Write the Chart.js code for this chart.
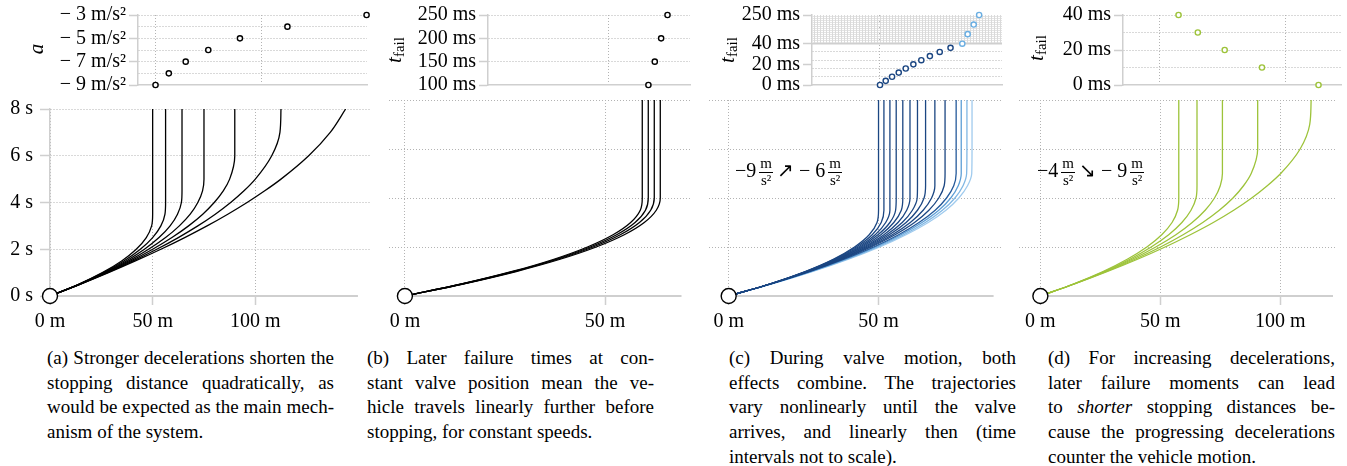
<!DOCTYPE html>
<html>
<head>
<meta charset="utf-8">
<script src="https://cdn.jsdelivr.net/npm/chart.js@4.4.1/dist/chart.umd.min.js"></script>
<style>
  body { margin: 0; background: #fff; }
  #fig { position: relative; width: 1347px; height: 466px; overflow: hidden; font-family: 'Liberation Serif', 'Times New Roman', Times, serif; color: #000; }
  canvas { position: absolute; }
  .ytitle { position: absolute; font-size: 21px; white-space: nowrap; transform: translate(-50%, -50%) rotate(-90deg); }
  .ytitle sub { font-size: 15px; vertical-align: -3px; }
  .note { position: absolute; font-size: 20px; line-height: 1; white-space: nowrap; }
  .frac { display: inline-block; vertical-align: middle; text-align: center; font-size: 15px; line-height: 1.05; margin: 0 4px 0 3px; }
  .frac span { display: block; }
  .frac .num { border-bottom: 0.8px solid #000; padding: 0 1px; }
  .cap { position: absolute; top: 346px; width: 287px; font-size: 19px; line-height: 24.7px; }
  .cap div { text-align: justify; text-align-last: justify; white-space: nowrap; }
  .cap div.last { text-align-last: left; }
</style>
</head>
<body>
<div id="fig">
  <canvas id="topA" width="380" height="100" style="left:0;top:0"></canvas>
  <canvas id="topB" width="320" height="100" style="left:380px;top:0"></canvas>
  <canvas id="topC" width="310" height="100" style="left:700px;top:0"></canvas>
  <canvas id="topD" width="337" height="100" style="left:1010px;top:0"></canvas>
  <canvas id="mainA" width="380" height="250" style="left:0;top:90px"></canvas>
  <canvas id="mainB" width="320" height="250" style="left:380px;top:90px"></canvas>
  <canvas id="mainC" width="310" height="250" style="left:700px;top:90px"></canvas>
  <canvas id="mainD" width="335" height="250" style="left:1010px;top:90px"></canvas>

  <div class="ytitle" style="left:36px;top:49px"><i>a</i></div>
  <div class="ytitle" style="left:395px;top:50px"><i>t</i><sub>fail</sub></div>
  <div class="ytitle" style="left:728px;top:50px"><i>t</i><sub>fail</sub></div>
  <div class="ytitle" style="left:1037px;top:48px"><i>t</i><sub>fail</sub></div>

  <div class="note" style="left:735px;top:156px">−9<span class="frac"><span class="num">m</span><span>s²</span></span>↗ − 6<span class="frac"><span class="num">m</span><span>s²</span></span></div>
  <div class="note" style="left:1037px;top:156px">−4<span class="frac"><span class="num">m</span><span>s²</span></span>↘ − 9<span class="frac"><span class="num">m</span><span>s²</span></span></div>

  <div class="cap" style="left:47px">
    <div>(a) Stronger decelerations shorten the</div>
    <div>stopping distance quadratically, as</div>
    <div>would be expected as the main mech-</div>
    <div class="last">anism of the system.</div>
  </div>
  <div class="cap" style="left:367px">
    <div>(b) Later failure times at con-</div>
    <div>stant valve position mean the ve-</div>
    <div>hicle travels linearly further before</div>
    <div class="last">stopping, for constant speeds.</div>
  </div>
  <div class="cap" style="left:729px">
    <div>(c) During valve motion, both</div>
    <div>effects combine. The trajectories</div>
    <div>vary nonlinearly until the valve</div>
    <div>arrives, and linearly then (time</div>
    <div class="last">intervals not to scale).</div>
  </div>
  <div class="cap" style="left:1048px">
    <div>(d) For increasing decelerations,</div>
    <div>later failure moments can lead</div>
    <div>to <i>shorter</i> stopping distances be-</div>
    <div>cause the progressing decelerations</div>
    <div class="last">counter the vehicle motion.</div>
  </div>
</div>

<script>
// time samples (s) shared by every trajectory, distances in m
const tGrid = [0, 0.5, 1, 1.5, 2, 2.5, 3, 3.5, 4, 4.5, 5, 6, 7, 8];
const origin = [{x: 0, y: 0}];
const timeTicks = [0, 2, 4, 6, 8];

// (a) deceleration sweep
const decelA = [-9, -8, -7, -6, -5, -4, -3];
const stopA = [50, 56.3, 64.3, 75, 90, 112.5, 150];
const curvesA = [
    [0, 13.9, 25.5, 34.9, 42, 46.9, 49.5, 50, 50, 50, 50, 50, 50, 50],
    [0, 14, 26, 36, 44, 50, 54, 56, 56.3, 56.3, 56.3, 56.3, 56.3, 56.3],
    [0, 14.1, 26.5, 37.1, 46, 53.1, 58.5, 62.1, 64, 64.3, 64.3, 64.3, 64.3, 64.3],
    [0, 14.3, 27, 38.3, 48, 56.3, 63, 68.3, 72, 74.3, 75, 75, 75, 75],
    [0, 14.4, 27.5, 39.4, 50, 59.4, 67.5, 74.4, 80, 84.4, 87.5, 90, 90, 90],
    [0, 14.5, 28, 40.5, 52, 62.5, 72, 80.5, 88, 94.5, 100, 108, 112, 112.5],
    [0, 14.6, 28.5, 41.6, 54, 65.6, 76.5, 86.6, 96, 104.6, 112.5, 126, 136.5, 144]
];

// (b) failure time sweep
const tFailB = [100, 150, 200, 250];
const stopB = [59.3, 60.8, 62.3, 63.8];
const curvesB = [
    [0, 14.4, 26.8, 37.2, 45.6, 52, 56.4, 58.8, 59.3, 59.3, 59.3, 59.3, 59.3, 59.3],
    [0, 14.5, 27.1, 37.7, 46.3, 52.9, 57.5, 60.1, 60.8, 60.8, 60.8, 60.8, 60.8, 60.8],
    [0, 14.6, 27.4, 38.2, 47, 53.8, 58.6, 61.4, 62.3, 62.3, 62.3, 62.3, 62.3, 62.3],
    [0, 14.8, 27.8, 38.8, 47.8, 54.8, 59.8, 62.8, 63.8, 63.8, 63.8, 63.8, 63.8, 63.8]
];

// (c) failure during valve motion
const tFailC = [0, 4, 8, 12, 16, 20, 24, 28, 32, 36, 40, 110, 180, 250];
const stopC = [50, 51.8, 53.8, 55.9, 58.1, 60.5, 63, 65.7, 68.8, 72.2, 75.9, 77.6, 79.5, 81.2];
const curvesC = [
    [0, 13.9, 25.5, 34.9, 42, 46.9, 49.5, 50, 50, 50, 50, 50, 50, 50],
    [0, 13.9, 25.7, 35.2, 42.6, 47.9, 50.9, 51.8, 51.8, 51.8, 51.8, 51.8, 51.8, 51.8],
    [0, 14, 25.8, 35.6, 43.3, 48.9, 52.4, 53.8, 53.8, 53.8, 53.8, 53.8, 53.8, 53.8],
    [0, 14, 26, 35.9, 43.9, 49.8, 53.8, 55.7, 55.9, 55.9, 55.9, 55.9, 55.9, 55.9],
    [0, 14, 26.1, 36.3, 44.5, 50.8, 55.1, 57.6, 58.1, 58.1, 58.1, 58.1, 58.1, 58.1],
    [0, 14.1, 26.3, 36.6, 45.1, 51.8, 56.5, 59.4, 60.5, 60.5, 60.5, 60.5, 60.5, 60.5],
    [0, 14.1, 26.4, 37, 45.7, 52.7, 57.9, 61.3, 62.9, 63, 63, 63, 63, 63],
    [0, 14.1, 26.6, 37.3, 46.3, 53.6, 59.2, 63, 65.2, 65.7, 65.7, 65.7, 65.7, 65.7],
    [0, 14.2, 26.7, 37.6, 46.9, 54.6, 60.6, 64.9, 67.7, 68.8, 68.8, 68.8, 68.8, 68.8],
    [0, 14.2, 26.9, 38, 47.5, 55.5, 62, 66.8, 70.1, 71.9, 72.2, 72.2, 72.2, 72.2],
    [0, 14.3, 27.2, 38.5, 48.4, 56.7, 63.5, 68.9, 72.7, 75.1, 75.9, 75.9, 75.9, 75.9],
    [0, 14.5, 27.5, 39, 49, 57.5, 64.5, 70.1, 74.1, 76.6, 77.6, 77.6, 77.6, 77.6],
    [0, 14.6, 27.8, 39.5, 49.7, 58.4, 65.6, 71.3, 75.5, 78.2, 79.4, 79.5, 79.5, 79.5],
    [0, 14.7, 28.1, 40, 50.4, 59.2, 66.6, 72.5, 76.8, 79.7, 81.1, 81.2, 81.2, 81.2]
];

// (d) increasing deceleration
const tFailD = [40, 30, 20, 10, 0];
const stopD = [57.7, 65.3, 75.9, 90.6, 112.9];
const curvesD = [
    [0, 14, 26.1, 36.2, 44.4, 50.6, 54.9, 57.2, 57.7, 57.7, 57.7, 57.7, 57.7, 57.7],
    [0, 14.1, 26.6, 37.3, 46.2, 53.5, 59, 62.8, 64.9, 65.3, 65.3, 65.3, 65.3, 65.3],
    [0, 14.3, 27, 38.3, 48.1, 56.5, 63.3, 68.7, 72.6, 75, 75.9, 75.9, 75.9, 75.9],
    [0, 14.4, 27.5, 39.4, 50.1, 59.5, 67.7, 74.6, 80.3, 84.7, 87.9, 90.6, 90.6, 90.6],
    [0, 14.5, 28, 40.5, 52, 62.5, 72.1, 80.6, 88.1, 94.6, 100.2, 108.3, 112.3, 112.9]
];

const GRID = '#b3b3b3';
const AXIS = '#cfcfcf';
const DOT = [1, 2];
const NAVY = '#1b4682';
const GREEN = '#9dc33a';

Chart.defaults.font.family = "'Liberation Serif', 'Times New Roman', Times, serif";
Chart.defaults.font.size = 20;
Chart.defaults.color = '#000';
Chart.defaults.animation = false;
Chart.defaults.events = [];
Chart.defaults.plugins.legend.display = false;
Chart.defaults.plugins.tooltip.enabled = false;

// y scale of panel (c): 0..40 ms linear, 40..250 ms squeezed into the hatched band
const BREAK_MS = 40;
const LOW_SHARE = 0.59;
class BrokenScale extends Chart.LinearScale {
    getPixelForValue(v) {
        const f = v <= BREAK_MS
            ? v / BREAK_MS * LOW_SHARE
            : LOW_SHARE + (v - BREAK_MS) / (this.max - BREAK_MS) * (1 - LOW_SHARE);
        return this.getPixelForDecimal(f);
    }
    getValueForPixel(p) {
        const f = this.getDecimalForPixel(p);
        return f <= LOW_SHARE
            ? f / LOW_SHARE * BREAK_MS
            : BREAK_MS + (f - LOW_SHARE) / (1 - LOW_SHARE) * (this.max - BREAK_MS);
    }
}
BrokenScale.id = 'broken';
BrokenScale.defaults = Chart.LinearScale.defaults;
Chart.register(BrokenScale);

const hatchBand = {
    id: 'hatchBand',
    beforeDatasetsDraw(chart) {
        const {ctx, chartArea: a, scales: {y}} = chart;
        const tile = document.createElement('canvas');
        tile.width = 3;
        tile.height = 2;
        const g = tile.getContext('2d');
        g.fillStyle = '#dadada';
        g.fillRect(0, 0, 1, 2);
        g.fillStyle = '#e4e4e4';
        g.fillRect(1, 0, 2, 1);
        const top = y.getPixelForValue(y.max);
        const bot = y.getPixelForValue(BREAK_MS);
        ctx.save();
        ctx.fillStyle = ctx.createPattern(tile, 'repeat');
        ctx.fillRect(a.left, top, a.right - a.left, bot - top);
        ctx.strokeStyle = AXIS;
        ctx.lineWidth = 1.5;
        ctx.beginPath();
        ctx.moveTo(a.left, bot);
        ctx.lineTo(a.right, bot);
        ctx.stroke();
        ctx.restore();
    }
};

// solid x axis line from 0 m to the end of the distance axis
function axisLine(end) {
    return {
        id: 'axisLine',
        beforeDatasetsDraw(chart) {
            const {ctx, scales: {x, y}} = chart;
            const py = y.getPixelForValue(0);
            ctx.save();
            ctx.strokeStyle = AXIS;
            ctx.lineWidth = 2;
            ctx.beginPath();
            ctx.moveTo(x.getPixelForValue(0), py);
            ctx.lineTo(x.getPixelForValue(end), py);
            ctx.stroke();
            ctx.restore();
        }
    };
}

function mainChart(c) {
    const datasets = c.curves.map((curve, i) => ({
        data: curve.map((x, k) => ({x: x, y: tGrid[k]})),
        borderColor: c.colors[i],
        borderWidth: 1.3,
        pointRadius: 0,
        cubicInterpolationMode: 'monotone',
        order: 1
    }));
    datasets.push({
        data: origin,
        showLine: false,
        pointRadius: 7.5,
        pointBorderWidth: 1.4,
        pointBorderColor: '#000',
        pointBackgroundColor: '#fff',
        clip: false,
        order: -1
    });
    return new Chart(document.getElementById(c.id), {
        type: 'line',
        data: {datasets},
        options: {
            responsive: false,
            indexAxis: 'y',
            layout: {padding: {top: 10, left: 0, right: 0, bottom: 0}},
            scales: {
                x: {
                    type: 'linear', min: c.xMin, max: c.xMax,
                    afterBuildTicks: s => { s.ticks = c.xTicks.map(v => ({value: v})); },
                    afterFit: s => { s.height = 44; },
                    grid: {color: GRID, tickColor: AXIS, tickLength: 9, tickWidth: 1.5},
                    border: {display: false, dash: DOT},
                    ticks: {padding: 5, maxRotation: 0, autoSkip: false, callback: v => v + ' m'}
                },
                y: {
                    type: 'linear', min: 0, max: 8,
                    afterBuildTicks: s => { s.ticks = timeTicks.map(v => ({value: v})); },
                    afterFit: s => { s.width = c.showY ? 50 : 0; },
                    grid: {
                        color: ctx => (ctx.tick && ctx.tick.value === 0) ? 'transparent' : GRID,
                        drawTicks: c.showY, tickColor: AXIS, tickLength: 10, tickWidth: 1.5
                    },
                    border: {display: c.showY, color: AXIS, width: 1.5, dash: DOT},
                    ticks: {display: c.showY, padding: 7, autoSkip: false, callback: v => v + ' s'}
                }
            }
        },
        plugins: [axisLine(c.axisEnd)]
    });
}

function topChart(c) {
    const isOn = (list, ctx) => !!ctx.tick && list.includes(ctx.tick.value);
    return new Chart(document.getElementById(c.id), {
        type: 'scatter',
        data: {datasets: [{
            data: c.points,
            pointRadius: 2.6,
            pointBorderWidth: 1.4,
            pointBorderColor: c.pointColors,
            pointBackgroundColor: '#fff',
            clip: false
        }]},
        options: {
            responsive: false,
            layout: {padding: {top: c.padTop, right: c.padRight, left: 0, bottom: 0}},
            scales: {
                x: {
                    type: 'linear', min: c.xMin, max: c.xMax,
                    afterBuildTicks: s => { s.ticks = c.xTicks.map(v => ({value: v})); },
                    afterFit: s => { s.height = 15; },
                    ticks: {display: false},
                    grid: {color: GRID, drawTicks: false},
                    border: {color: AXIS, width: 1.5, dash: DOT}
                },
                y: {
                    type: c.yType, min: c.yMin, max: c.yMax,
                    afterBuildTicks: s => { s.ticks = c.yTicks.map(v => ({value: v})); },
                    afterFit: s => { s.width = c.yWidth; },
                    ticks: {padding: 3, autoSkip: false, callback: v => c.yLabeled.includes(v) ? c.yFmt(v) : ''},
                    grid: {
                        color: ctx => isOn(c.yGrid, ctx) ? GRID : 'transparent',
                        tickColor: ctx => isOn(c.yLabeled, ctx) ? AXIS : 'transparent',
                        tickLength: 9, tickWidth: 1.5
                    },
                    border: {color: AXIS, width: 1.5, dash: DOT}
                }
            }
        },
        plugins: c.plugins || []
    });
}

// ---- panel (a)
topChart({
    id: 'topA', padTop: 13, padRight: 13, yWidth: 138,
    xMin: 41.7, xMax: 150.2, xTicks: [50, 100],
    yType: 'linear', yMin: -9, yMax: -3,
    yTicks: [-9, -8, -7, -6, -5, -4, -3], yGrid: [-8, -7, -6, -5, -4, -3], yLabeled: [-9, -7, -5, -3],
    yFmt: v => '− ' + (-v) + ' m/s²',
    points: stopA.map((x, i) => ({x, y: decelA[i]})),
    pointColors: '#000'
});
mainChart({
    id: 'mainA', curves: curvesA, colors: curvesA.map(() => '#000'),
    xMin: 0, xMax: 156.4, xTicks: [0, 50, 100], axisEnd: 150, showY: true
});

// ---- panel (b)
topChart({
    id: 'topB', padTop: 13, padRight: 10, yWidth: 108,
    xMin: 21.5, xMax: 69.1, xTicks: [50],
    yType: 'linear', yMin: 100, yMax: 250,
    yTicks: [100, 150, 200, 250], yGrid: [150, 200, 250], yLabeled: [100, 150, 200, 250],
    yFmt: v => v + ' ms',
    points: stopB.map((x, i) => ({x, y: tFailB[i]})),
    pointColors: '#000'
});
mainChart({
    id: 'mainB', curves: curvesB, colors: curvesB.map(() => '#000'),
    xMin: -4.0, xMax: 71.5, xTicks: [0, 50], axisEnd: 69.1, showY: false
});

// ---- panel (c)
const lineColorsC = curvesC.map((_, i) => ['#24599a', '#5e9fd6', '#80b7e3', '#a0cbee'][i - 10] || NAVY);
const pointColorsC = tFailC.map(t => t >= BREAK_MS ? '#6aaee2' : NAVY);
topChart({
    id: 'topC', padTop: 15, padRight: 8, yWidth: 112,
    xMin: 28.6, xMax: 88.4, xTicks: [50],
    yType: 'broken', yMin: 0, yMax: 250,
    yTicks: [0, 8, 16, 20, 24, 32, 40, 250], yGrid: [8, 16, 24, 32], yLabeled: [0, 20, 40, 250],
    yFmt: v => v + ' ms',
    points: stopC.map((x, i) => ({x, y: tFailC[i]})),
    pointColors: pointColorsC,
    plugins: [hatchBand]
});
mainChart({
    id: 'mainC', curves: curvesC, colors: lineColorsC,
    xMin: -6.6, xMax: 90.9, xTicks: [0, 50], axisEnd: 88.4, showY: false
});

// ---- panel (d)
topChart({
    id: 'topD', padTop: 13, padRight: 5, yWidth: 113,
    xMin: 35.8, xMax: 122, xTicks: [50, 100],
    yType: 'linear', yMin: 0, yMax: 40,
    yTicks: [0, 10, 20, 30, 40], yGrid: [10, 20, 30, 40], yLabeled: [0, 20, 40],
    yFmt: v => v + ' ms',
    points: stopD.map((x, i) => ({x, y: tFailD[i]})),
    pointColors: GREEN
});
mainChart({
    id: 'mainD', curves: curvesD, colors: curvesD.map(() => GREEN),
    xMin: -8.96, xMax: 123.3, xTicks: [0, 50, 100], axisEnd: 122, showY: false
});
</script>
</body>
</html>
